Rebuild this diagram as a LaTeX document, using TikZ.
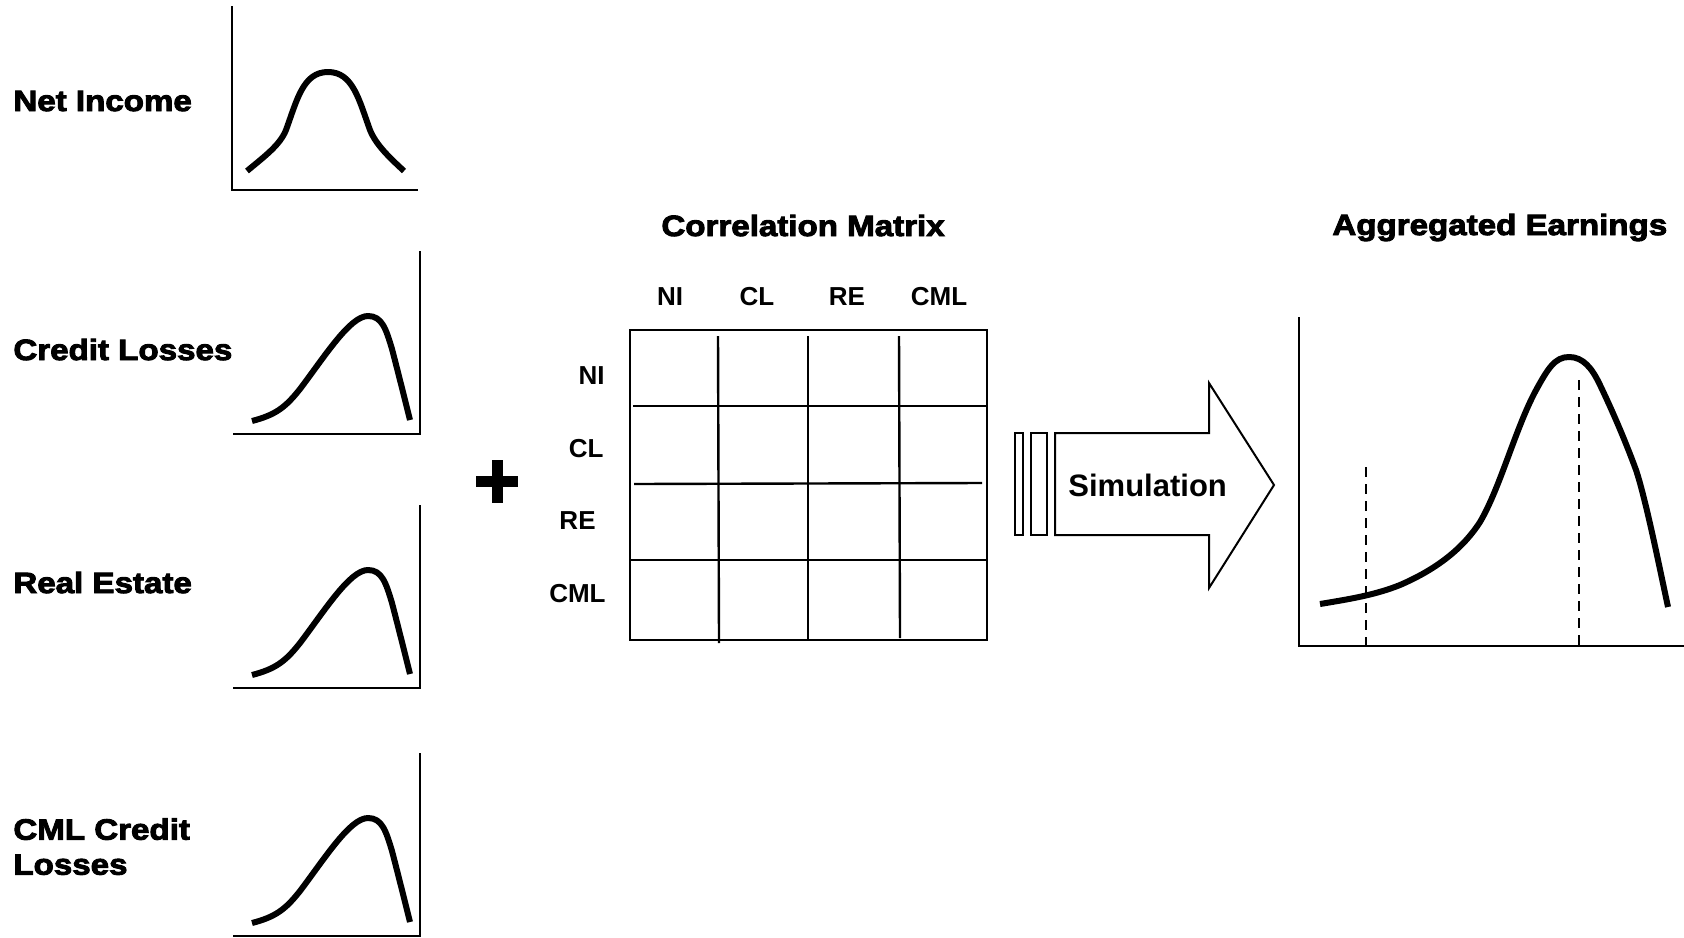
\documentclass[tikz,border=0pt]{standalone}
\usepackage{fontspec}
\setmainfont{Liberation Sans}
\newfontfamily\heavyfont{Liberation Sans}[FakeStretch=1.13,FakeBold=3.2]
\begin{document}
\begin{tikzpicture}[x=0.5pt,y=-0.5pt,
  axis/.style={line width=1.2pt},
  density/.style={line width=3pt, line join=round},
  grid line/.style={line width=1.2pt},
  heading/.style={font=\heavyfont\bfseries\fontsize{14.65}{17.5}\selectfont, inner sep=0pt},
  cell label/.style={font=\bfseries\fontsize{13}{15}\selectfont, inner sep=0pt},
  quantile/.style={line width=1.2pt, dash pattern=on 5pt off 3.5pt},
  outline/.style={line width=1pt, line join=miter},
]
\useasboundingbox (0,0) rectangle (1684,937);

% ---- input distributions ----
\node[heading, anchor=base west] (ni) at (13,111) {Net Income};
\node[heading, anchor=base west] (cl) at (13,360) {Credit Losses};
\node[heading, anchor=base west] (re) at (13,593) {Real Estate};
\node[heading, anchor=north west, align=left] (cml) at (13,818) {CML Credit\\Losses};

% symmetric net income density
\draw[axis] (232,6) -- (232,190) -- (418,190);
\draw[density] (247,171) .. controls (265,156) and (280,145) .. (286,130)
  .. controls (297,100) and (303,72) .. (328,72)
  .. controls (353,72) and (359,100) .. (370,130)
  .. controls (376,145) and (390,158) .. (404,171);

% skewed loss densities
\foreach \yb in {434,688,936} {
  \begin{scope}[shift={(0,\yb)}]
    \draw[axis] (233,0) -- (420,0) -- (420,-183);
    \draw[density] (252,-13) .. controls (275,-19) and (285,-26) .. (300,-45)
      .. controls (325,-78) and (350,-118) .. (368,-118)
      .. controls (382,-118) and (386,-105) .. (392,-85)
      .. controls (398,-62) and (404,-38) .. (410,-14);
  \end{scope}
}

% plus sign
\fill (476,476) rectangle (518,487);
\fill (492,460) rectangle (503,503);

% ---- correlation matrix ----
\node[heading, anchor=base west] (cmtitle) at (661,236) {Correlation Matrix};
\node[cell label, anchor=base] (cni)  at (670,305) {NI};
\node[cell label, anchor=base] (ccl)  at (757,305) {CL};
\node[cell label, anchor=base] (cre)  at (847,305) {RE};
\node[cell label, anchor=base] (ccml) at (939,305) {CML};
\node[cell label, anchor=base east] (rni)  at (605,384) {NI};
\node[cell label, anchor=base east] (rcl)  at (604,457) {CL};
\node[cell label, anchor=base east] (rre)  at (596,529) {RE};
\node[cell label, anchor=base east] (rcml) at (606,602) {CML};

\draw[grid line] (630,330) rectangle (987,640);
\draw[grid line] (718,336) -- (719,643);
\draw[grid line] (808,336) -- (808,640);
\draw[grid line] (899,336) -- (900,638);
\draw[grid line] (633,406) -- (987,406);
\draw[grid line] (634,484) -- (982,483);
\draw[grid line] (630,560) -- (987,560);

% ---- simulation arrow ----
\draw[outline] (1015,433) rectangle (1023,535);
\draw[outline] (1031,433) rectangle (1047,535);
\draw[outline] (1055,433) -- (1209,433) -- (1209,383) -- (1274,485)
  -- (1209,588) -- (1209,535) -- (1055,535) -- cycle;
\node[font=\bfseries\fontsize{15.5}{18}\selectfont, inner sep=0pt, anchor=base west]
  (sim) at (1068,496) {Simulation};

% ---- aggregated earnings ----
\node[heading, anchor=base west] (agtitle) at (1332,235) {Aggregated Earnings};
\draw[axis] (1299,317) -- (1299,646) -- (1684,646);
\draw[quantile] (1366,467) -- (1366,646);
\draw[quantile] (1579,380) -- (1579,646);
\draw[density] (1320,604) .. controls (1350,599) and (1375,595) .. (1400,585)
  .. controls (1430,572) and (1460,553) .. (1480,522)
  .. controls (1500,488) and (1515,430) .. (1535,392)
  .. controls (1548,368) and (1555,357) .. (1569,357)
  .. controls (1583,357) and (1592,368) .. (1600,385)
  .. controls (1612,410) and (1625,440) .. (1636,470)
  .. controls (1646,500) and (1660,570) .. (1668,607);
\end{tikzpicture}
\end{document}
